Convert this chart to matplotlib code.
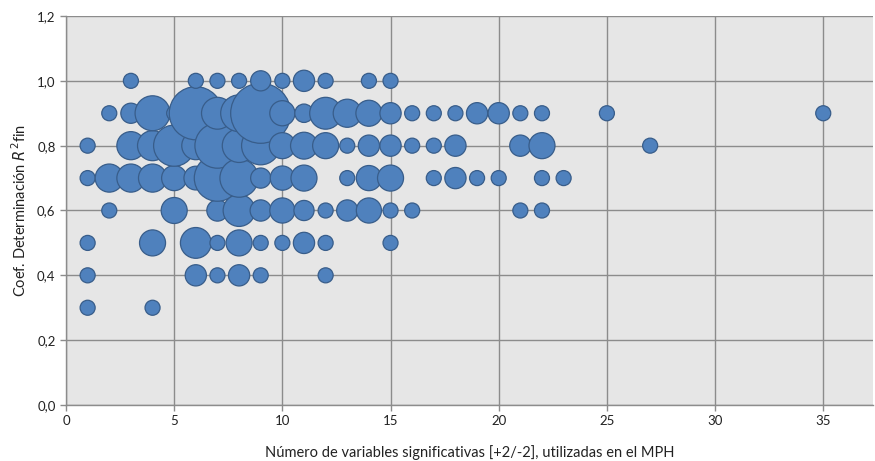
import matplotlib
matplotlib.use('Agg')
import matplotlib.pyplot as plt
from matplotlib.ticker import FuncFormatter

plt.rcParams['font.family'] = ['Lato', 'DejaVu Sans']
plt.rcParams['mathtext.fontset'] = 'dejavusans'

# numero de variables, R2 final, tamaño de burbuja (por fila de R2)
x_10 = [3, 6, 7, 8, 9, 10, 11, 12, 14, 15]
s_10 = [1, 1, 1, 1, 1.8, 1, 2, 1, 1, 1]

x_09 = [2, 3, 4, 5, 6, 7, 8, 9, 10, 11, 12, 13, 14, 15, 16, 17, 18, 19, 20, 21, 22, 25, 35]
s_09 = [1, 1.8, 5.4, 1, 12.5, 4.5, 6, 16, 2.8, 1.5, 4.5, 3.5, 3, 2, 1, 1, 1, 2, 2, 1, 1, 1, 1]

x_08 = [1, 3, 4, 5, 6, 7, 8, 9, 10, 11, 12, 13, 14, 15, 16, 17, 18, 21, 22, 27]
s_08 = [1, 3.5, 4, 7.5, 3.5, 9, 5, 6.5, 3, 3.2, 3, 1, 2, 2, 1, 1, 2, 2, 3, 1]

x_07 = [1, 2, 3, 4, 5, 6, 7, 8, 9, 10, 11, 13, 14, 15, 17, 18, 19, 20, 22, 23]
s_07 = [1, 3.5, 3.5, 3.5, 2.8, 2.5, 9.5, 6.5, 1.8, 2.6, 3, 1, 2.8, 3, 1, 2, 1, 1, 1, 1]

x_06 = [2, 5, 7, 8, 9, 10, 11, 12, 13, 14, 15, 16, 21, 22]
s_06 = [1, 3, 2, 4.5, 2, 2.8, 1.8, 1, 2, 2.8, 1, 1, 1, 1]

x_05 = [1, 4, 6, 7, 8, 9, 10, 11, 12, 15]
s_05 = [1, 3, 4.2, 1, 3, 1, 1, 2, 1, 1]

x_04 = [1, 6, 7, 8, 9, 12]
s_04 = [1, 2, 1, 2, 1, 1]

x_03 = [1, 4]
s_03 = [1, 1]

filas = [(1.0, x_10, s_10), (0.9, x_09, s_09), (0.8, x_08, s_08), (0.7, x_07, s_07),
         (0.6, x_06, s_06), (0.5, x_05, s_05), (0.4, x_04, s_04), (0.3, x_03, s_03)]

puntos = []
for r2, xs, ss in filas:
    for xv, sv in zip(xs, ss):
        puntos.append((xv, r2, sv))
# orden de dibujo: por x y luego por R2
puntos.sort(key=lambda p: (p[0], p[1]))

fig = plt.figure(figsize=(8.75, 4.61), dpi=100)
ax = fig.add_axes([66/875, 56/461, 807/875, 389/461])
ax.set_facecolor('#e6e6e6')

escala = 117
ax.scatter([p[0] for p in puntos], [p[1] for p in puntos],
           s=[p[2] * escala for p in puntos],
           c='#4f81bd', edgecolors='#385d8a', linewidths=0.9, zorder=3)

ax.set_xlim(0, 37.3)
ax.set_ylim(0, 1.2)
ax.set_xticks(range(0, 36, 5))
ax.set_yticks([0, 0.2, 0.4, 0.6, 0.8, 1.0, 1.2])
ax.yaxis.set_major_formatter(FuncFormatter(lambda v, p: f'{v:.1f}'.replace('.', ',')))
ax.grid(True, color='#8c8c8c', linewidth=1.0, zorder=0)
ax.set_axisbelow(True)

for lado in ['top', 'right']:
    ax.spines[lado].set_visible(False)
for lado in ['left', 'bottom']:
    ax.spines[lado].set_color('#8c8c8c')
    ax.spines[lado].set_linewidth(1.0)

ax.tick_params(axis='both', colors='#8c8c8c', labelcolor='#222222', labelsize=9.5,
               length=4, width=1.0, direction='out')

ax.set_xlabel('Número de variables significativas [+2/-2], utilizadas en el MPH',
              fontsize=10.5, color='#222222', labelpad=13)
ax.set_ylabel(r'Coef. Determinación $R^{2}$fin', fontsize=10.5, color='#222222', labelpad=6)

fig.savefig('out.png', dpi=100)
